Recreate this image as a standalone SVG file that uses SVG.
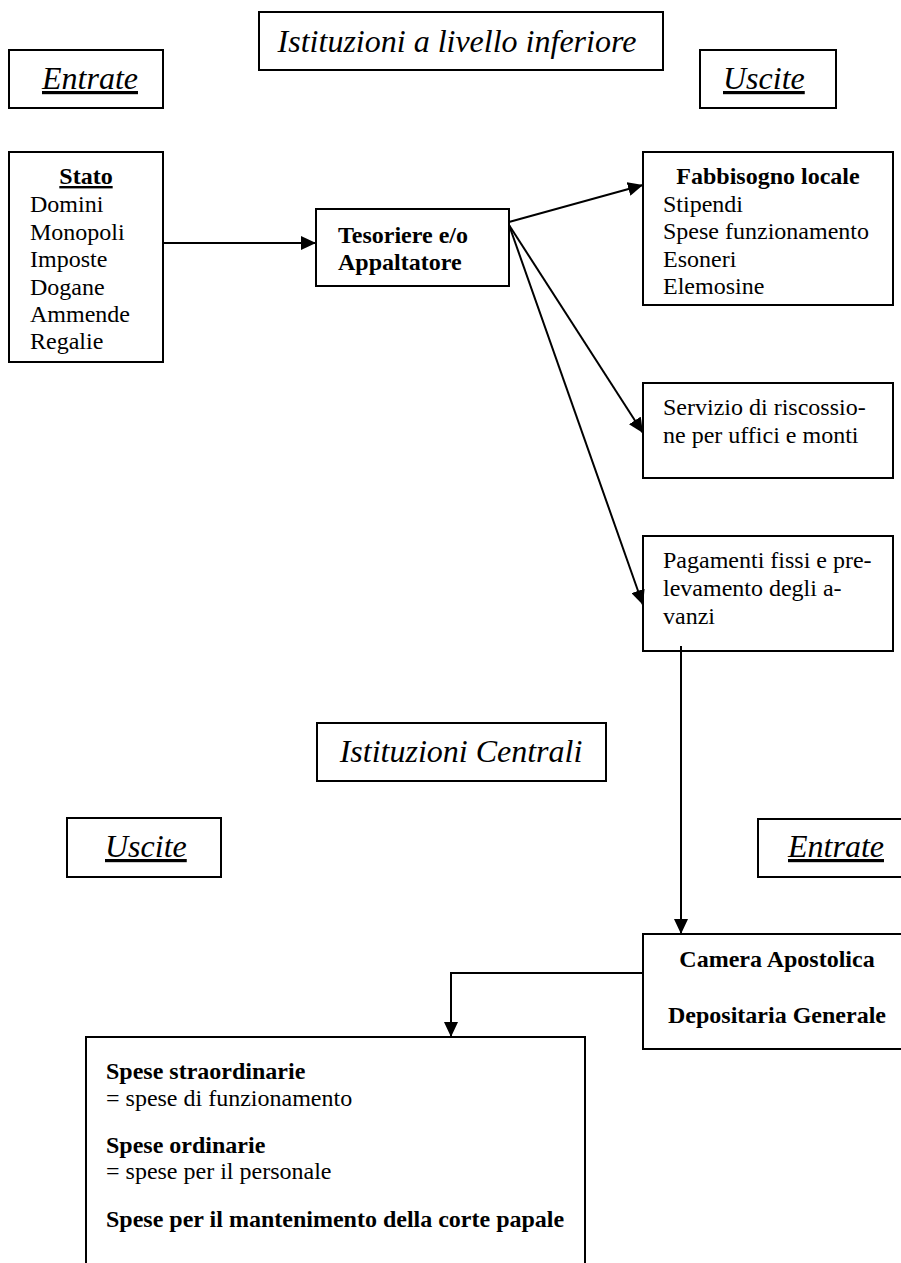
<svg xmlns="http://www.w3.org/2000/svg" width="901" height="1263" viewBox="0 0 901 1263">
<defs>
<style>
.box{fill:#fff;stroke:#000;stroke-width:2}
.t{font-family:"Liberation Serif","Times New Roman",serif;font-size:24px;fill:#000}
.b{font-weight:bold}
.i{font-style:italic;font-size:32px}
.u{text-decoration:underline}
.c{text-anchor:middle}
.ln{fill:none;stroke:#000;stroke-width:2}
</style>
<marker id="ah" viewBox="0 0 15 14" refX="15" refY="7" markerWidth="15" markerHeight="14" orient="auto" markerUnits="userSpaceOnUse">
<path d="M0,0 L15,7 L0,14 z" fill="#000"/>
</marker>
</defs>
<rect width="901" height="1263" fill="#fff"/>

<g id="title-inferiore">
<rect class="box" x="259" y="12" width="404" height="58"/>
<text class="t i c" x="457" y="52">Istituzioni a livello inferiore</text>
</g>
<g id="entrate-top">
<rect class="box" x="9" y="50" width="154" height="58"/>
<text class="t i u" x="42" y="89">Entrate</text>
</g>
<g id="uscite-top">
<rect class="box" x="700" y="50" width="136" height="58"/>
<text class="t i u" x="723" y="89">Uscite</text>
</g>

<g id="stato">
<rect class="box" x="9" y="152" width="154" height="210"/>
<text class="t b u c" x="86" y="184">Stato</text>
<text class="t" x="30" y="212">Domini</text>
<text class="t" x="30" y="240">Monopoli</text>
<text class="t" x="30" y="267">Imposte</text>
<text class="t" x="30" y="295">Dogane</text>
<text class="t" x="30" y="322">Ammende</text>
<text class="t" x="30" y="349">Regalie</text>
</g>

<g id="tesoriere">
<rect class="box" x="316" y="209" width="193" height="77"/>
<text class="t b" x="338" y="243">Tesoriere e/o</text>
<text class="t b" x="338" y="270">Appaltatore</text>
</g>

<g id="fabbisogno">
<rect class="box" x="643" y="152" width="250" height="153"/>
<text class="t b c" x="768" y="184">Fabbisogno locale</text>
<text class="t" x="663" y="212">Stipendi</text>
<text class="t" x="663" y="239">Spese funzionamento</text>
<text class="t" x="663" y="267">Esoneri</text>
<text class="t" x="663" y="294">Elemosine</text>
</g>

<g id="servizio">
<rect class="box" x="643" y="383" width="250" height="95"/>
<text class="t" x="663" y="415">Servizio di riscossio-</text>
<text class="t" x="663" y="443">ne per uffici e monti</text>
</g>

<g id="pagamenti">
<rect class="box" x="643" y="536" width="250" height="115"/>
<text class="t" x="663" y="568">Pagamenti fissi e pre-</text>
<text class="t" x="663" y="596">levamento degli a-</text>
<text class="t" x="663" y="624">vanzi</text>
</g>

<g id="title-centrali">
<rect class="box" x="317" y="723" width="289" height="58"/>
<text class="t i c" x="461" y="762">Istituzioni Centrali</text>
</g>
<g id="uscite-bottom">
<rect class="box" x="67" y="818" width="154" height="59"/>
<text class="t i u" x="105" y="857">Uscite</text>
</g>
<g id="entrate-bottom">
<rect class="box" x="758" y="819" width="150" height="58"/>
<text class="t i u" x="788" y="857">Entrate</text>
</g>

<g id="camera">
<rect class="box" x="643" y="934" width="264" height="115"/>
<text class="t b c" x="777" y="967">Camera Apostolica</text>
<text class="t b c" x="777" y="1023">Depositaria Generale</text>
</g>

<g id="spese">
<rect class="box" x="86" y="1037" width="499" height="240"/>
<text class="t b" x="106" y="1079">Spese straordinarie</text>
<text class="t" x="106" y="1106">= spese di funzionamento</text>
<text class="t b" x="106" y="1153">Spese ordinarie</text>
<text class="t" x="106" y="1179">= spese per il personale</text>
<text class="t b" x="106" y="1227">Spese per il mantenimento della corte papale</text>
</g>

<g id="connectors">
<path class="ln" d="M163,243 L316,243" marker-end="url(#ah)"/>
<path class="ln" d="M509,222 L643,185" marker-end="url(#ah)"/>
<path class="ln" d="M509,225 L643,433" marker-end="url(#ah)"/>
<path class="ln" d="M509,225 L643,605" marker-end="url(#ah)"/>
<path class="ln" d="M681,646 L681,934" marker-end="url(#ah)"/>
<path class="ln" d="M643,973 L451,973 L451,1037" marker-end="url(#ah)"/>
</g>
</svg>
